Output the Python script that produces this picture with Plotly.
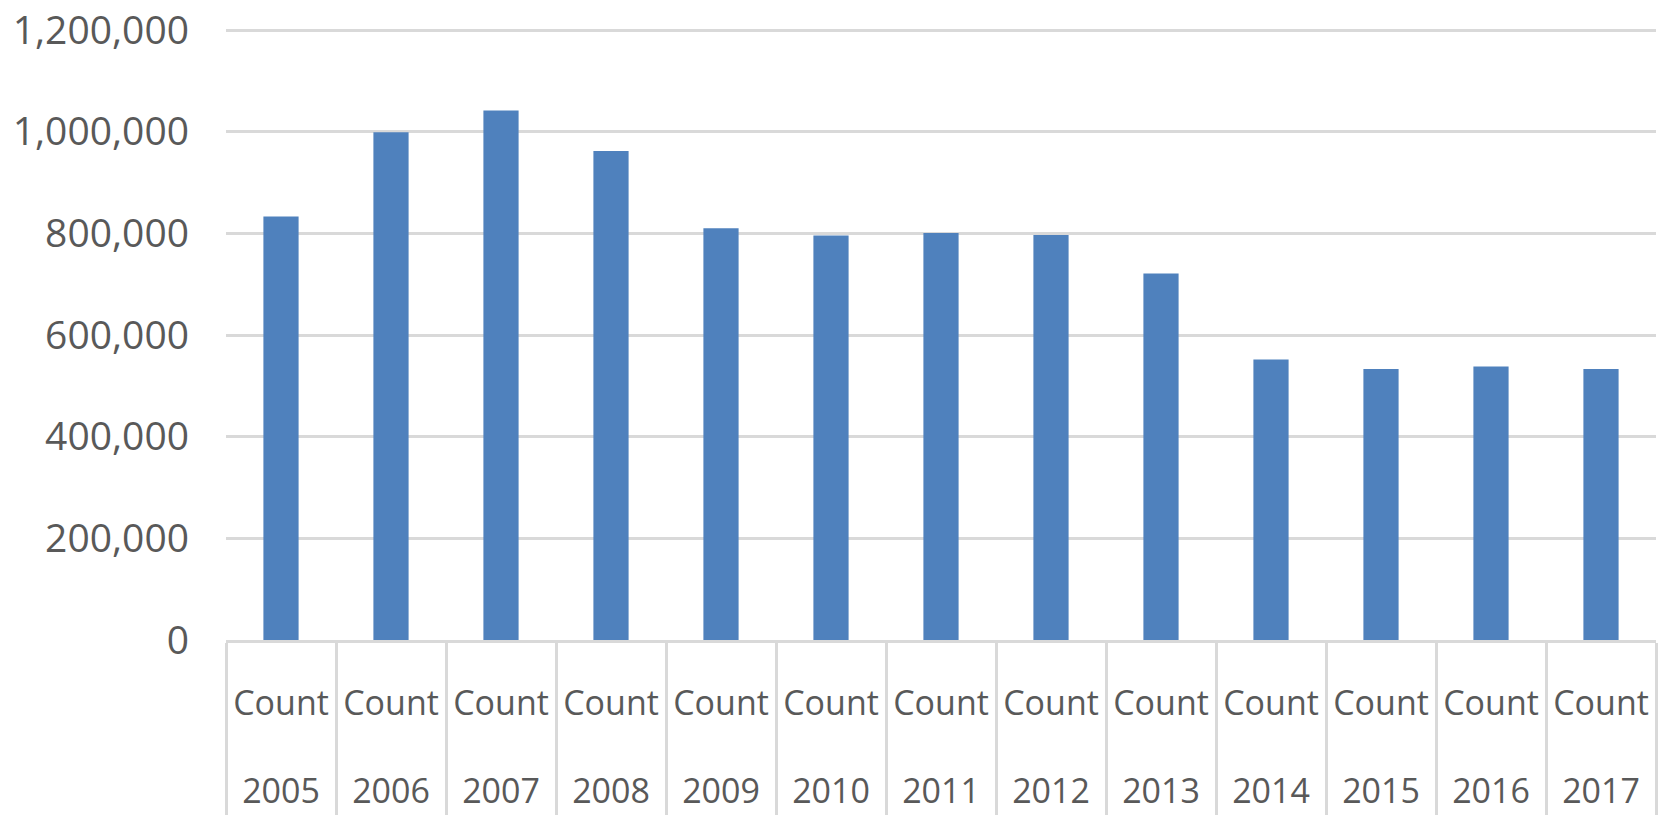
import plotly.graph_objects as go

# Yearly counts, 2005-2017
years = ["2005", "2006", "2007", "2008", "2009", "2010", "2011",
         "2012", "2013", "2014", "2015", "2016", "2017"]
counts = [833000, 999000, 1042000, 962000, 810000, 796000, 801000,
          797000, 721000, 552000, 533000, 538000, 533000]
series_label = "Count"

y_tickvals = [0, 200000, 400000, 600000, 800000, 1000000, 1200000]

BAR_BLUE = "#4f81bd"
GRID_GRAY = "#d9d9d9"
TEXT_GRAY = "#595959"
FONT = "Open Sans, Liberation Sans, sans-serif"

fig = go.Figure(
    go.Bar(
        x=years,
        y=counts,
        marker=dict(color=BAR_BLUE, line=dict(width=0)),
        hoverinfo="x+y",
    )
)

# Two-level category labels: series name on top, year underneath
tick_text = [f"{series_label}<br><br>{yr}" for yr in years]

fig.update_layout(
    width=1658,
    height=815,
    margin=dict(l=226, r=2, t=23, b=171),
    paper_bgcolor="white",
    plot_bgcolor="white",
    bargap=0.68,
    showlegend=False,
    font=dict(family=FONT, color=TEXT_GRAY),
)

fig.update_xaxes(
    type="category",
    tickvals=years,
    ticktext=tick_text,
    tickson="boundaries",
    ticks="outside",
    ticklen=172,
    tickwidth=3,
    tickcolor=GRID_GRAY,
    ticklabelstandoff=31,
    tickfont=dict(family=FONT, size=34, color=TEXT_GRAY),
    showline=True,
    linecolor=GRID_GRAY,
    linewidth=3,
    showgrid=False,
    tickangle=0,
)

# A little headroom above the top tick so its gridline is kept
fig.update_yaxes(
    range=[0, 1210000],
    tickvals=y_tickvals,
    tickformat=",",
    ticks="",
    ticklabelstandoff=36,
    ticklabeloverflow="allow",
    tickfont=dict(family=FONT, size=39, color=TEXT_GRAY),
    showgrid=True,
    gridcolor=GRID_GRAY,
    gridwidth=2.5,
    zeroline=False,
    showline=False,
)

fig.write_html("out.html")
